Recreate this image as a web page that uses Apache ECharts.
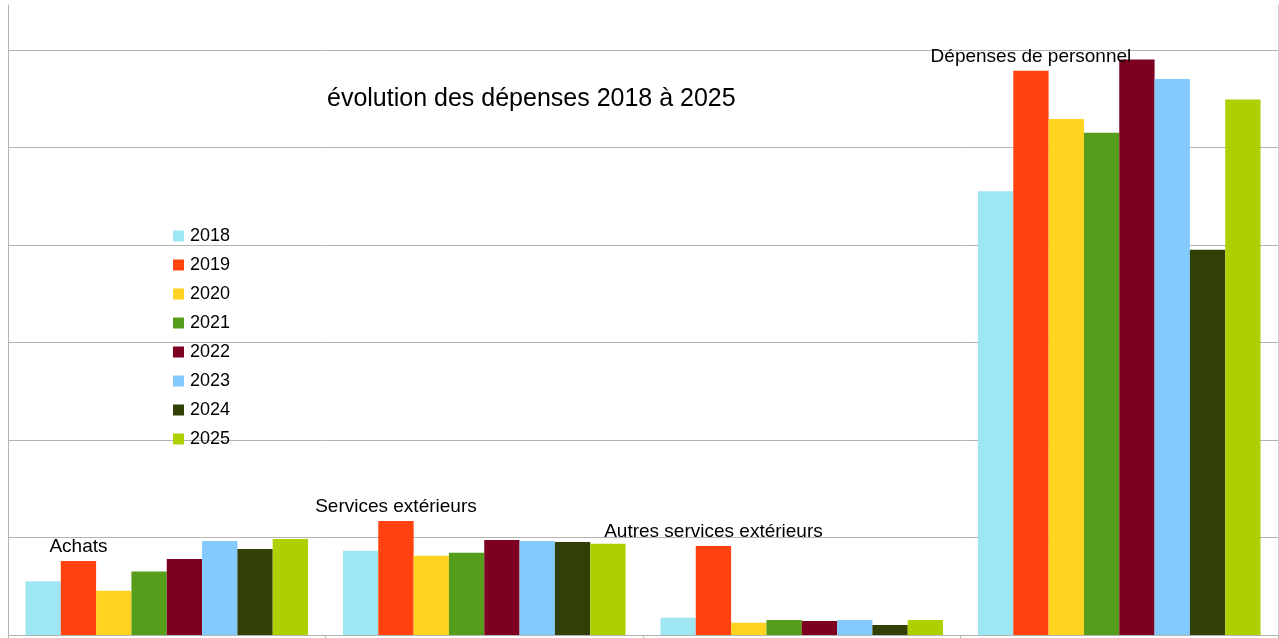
<!DOCTYPE html>
<html>
<head>
<meta charset="utf-8">
<script src="https://cdn.jsdelivr.net/npm/echarts@6/dist/echarts.min.js"></script>
<style>
  html, body { margin: 0; padding: 0; background: #fff; }
  #chart { width: 1279px; height: 638px; }
</style>
</head>
<body>
<div id="chart"></div>
<script>
// postes de dépenses
const categories = ['Achats', 'Services extérieurs', 'Autres services extérieurs', 'Dépenses de personnel']
const years = ['2018', '2019', '2020', '2021', '2022', '2023', '2024', '2025']
// valeurs par année (une valeur par poste)
const v2018 = [0.55, 0.865, 0.178, 4.55]
const v2019 = [0.76, 1.17, 0.913, 5.785]
const v2020 = [0.455, 0.813, 0.126, 5.29]
const v2021 = [0.65, 0.844, 0.154, 5.15]
const v2022 = [0.78, 0.974, 0.144, 5.9]
const v2023 = [0.964, 0.964, 0.154, 5.7]
const v2024 = [0.882, 0.954, 0.103, 3.95]
const v2025 = [0.985, 0.936, 0.154, 5.49]
const values = [v2018, v2019, v2020, v2021, v2022, v2023, v2024, v2025]
const colors = ['#9ee6f2', '#ff420e', '#ffd320', '#579d1c', '#7e0021', '#83caff', '#314004', '#aecf00']

const chart = echarts.init(document.getElementById('chart'))

const series = years.map((y, i) => {
    const s = {
        name: y,
        type: 'bar',
        data: values[i],
        barGap: '0%',
        barCategoryGap: '11%',
        itemStyle: { color: colors[i] }
    }
    // les noms des postes sont posés au-dessus des barres 2019
    if (y === '2019') {
        s.label = {
            show: true,
            position: 'top',
            distance: 5,
            fontSize: 19,
            color: '#000',
            fontFamily: 'Liberation Sans',
            formatter: (p) => p.name
        }
    }
    return s
})

chart.setOption({
    animation: false,
    textStyle: { fontFamily: 'Liberation Sans' },
    title: {
        text: 'évolution des dépenses 2018 à 2025',
        left: 322,
        top: 82,
        textStyle: { fontSize: 25, fontWeight: 'normal', color: '#000', fontFamily: 'Liberation Sans' }
    },
    legend: {
        orient: 'vertical',
        left: 168,
        top: 222,
        itemWidth: 11,
        itemHeight: 11,
        itemGap: 11,
        icon: 'rect',
        textStyle: { fontSize: 18, color: '#000', fontFamily: 'Liberation Sans', padding: [0, 0, 0, 1] },
        data: years
    },
    grid: { left: 8, right: 1, top: 5, bottom: 3, containLabel: false },
    xAxis: {
        type: 'category',
        data: categories,
        axisLine: { lineStyle: { color: '#b3b3b3' } },
        axisTick: { show: true, inside: false, length: 3, lineStyle: { color: '#b3b3b3' } },
        axisLabel: { show: false }
    },
    yAxis: [
        {
            type: 'value',
            min: 0,
            max: 6.46,
            interval: 1,
            axisLine: { show: true, lineStyle: { color: '#b3b3b3' } },
            axisTick: { show: false },
            axisLabel: { show: false },
            splitLine: { show: true, showMaxLine: false, lineStyle: { color: '#b3b3b3' } }
        },
        {
            // bord droit du cadre
            type: 'value',
            position: 'right',
            min: 0,
            max: 6.46,
            interval: 1,
            axisLine: { show: true, lineStyle: { color: '#c8c8c8' } },
            axisTick: { show: false },
            axisLabel: { show: false },
            splitLine: { show: false }
        }
    ],
    series
})
</script>
</body>
</html>
